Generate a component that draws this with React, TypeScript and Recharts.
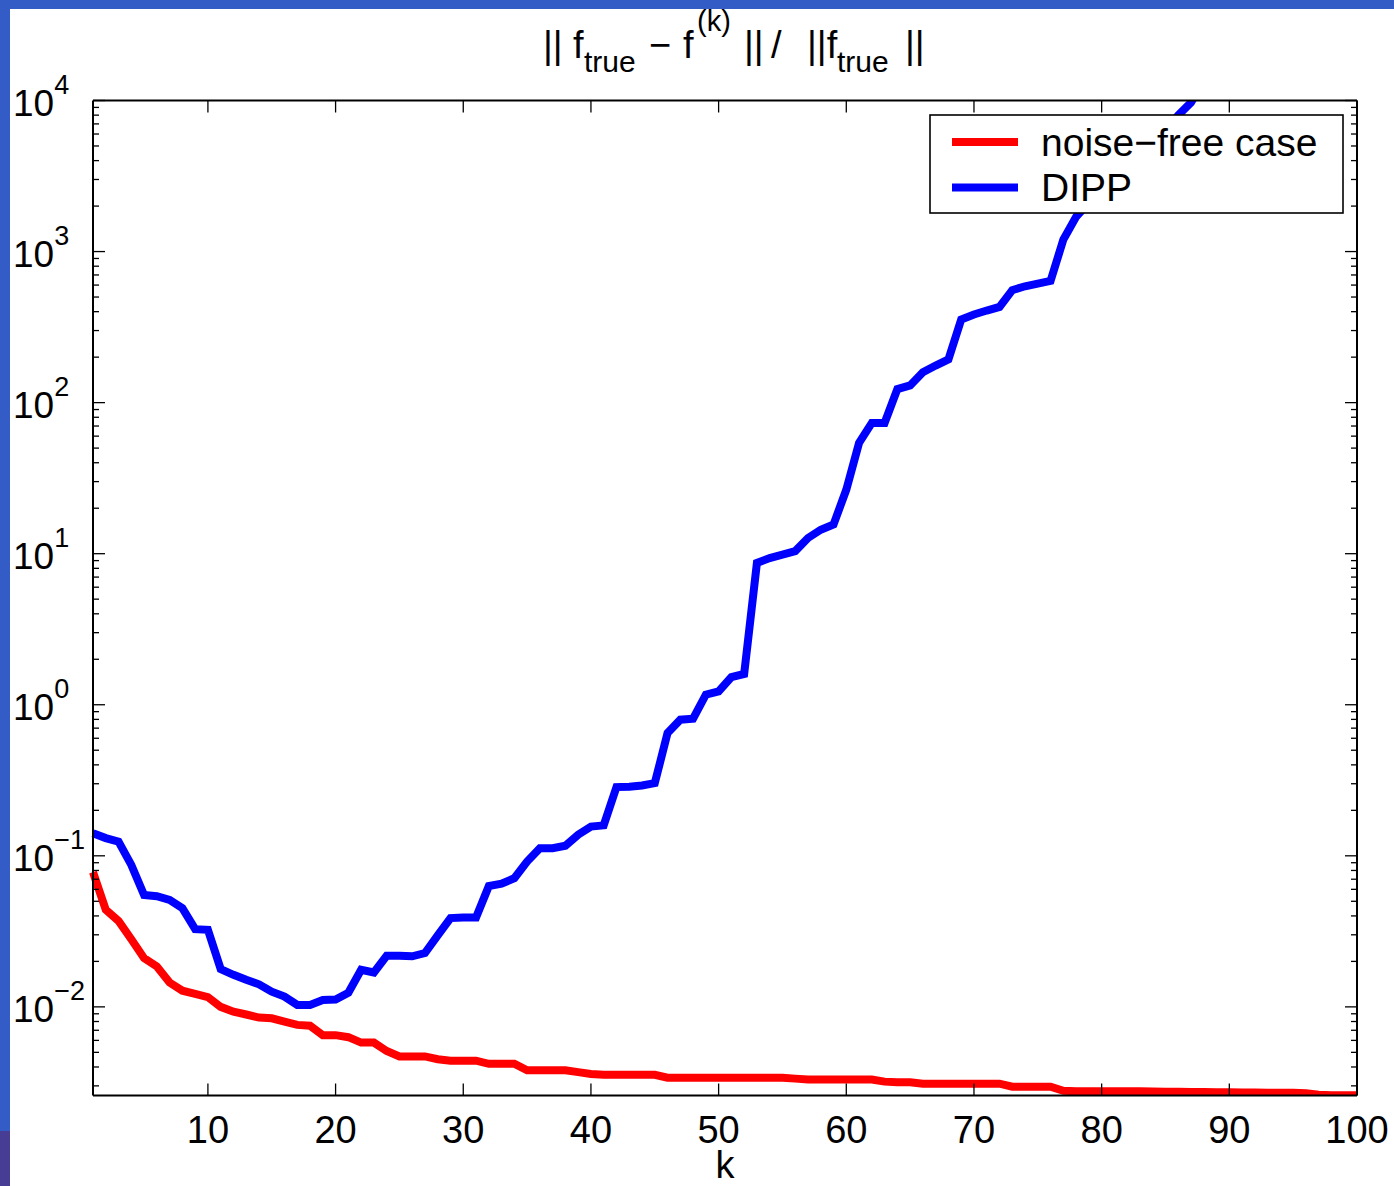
import React from 'react';
import { LineChart, Line, XAxis, YAxis } from 'recharts';

// relative error per iteration k = 1..100
const noiseFree = [
  0.078, 0.044, 0.037, 0.028, 0.021, 0.0185, 0.0145, 0.0128, 0.0122, 0.0116,
  0.01, 0.0093, 0.0089, 0.0085, 0.0084, 0.008, 0.0076, 0.0075, 0.0065, 0.0065,
  0.0063, 0.0058, 0.0058, 0.0051, 0.0047, 0.0047, 0.0047, 0.0045, 0.0044, 0.0044,
  0.0044, 0.0042, 0.0042, 0.0042, 0.0038, 0.0038, 0.0038, 0.0038, 0.0037, 0.0036,
  0.00355, 0.00355, 0.00355, 0.00355, 0.00355, 0.0034, 0.0034, 0.0034, 0.0034, 0.0034,
  0.0034, 0.0034, 0.0034, 0.0034, 0.0034, 0.00335, 0.0033, 0.0033, 0.0033, 0.0033,
  0.0033, 0.0033, 0.0032, 0.00317, 0.00317, 0.0031, 0.0031, 0.0031, 0.0031, 0.0031,
  0.0031, 0.0031, 0.00296, 0.00296, 0.00296, 0.00296, 0.00278, 0.00276, 0.00276, 0.00276,
  0.00276, 0.00276, 0.00276, 0.00275, 0.00274, 0.00274, 0.00273, 0.00273, 0.00272, 0.00272,
  0.00271, 0.00271, 0.0027, 0.0027, 0.0027, 0.00268, 0.00262, 0.0026, 0.0026, 0.0026,
];

// DIPP leaves the top of the axes after k = 87
const dipp = [
  0.141, 0.131, 0.124, 0.087, 0.055, 0.054, 0.051, 0.045, 0.0327, 0.0324,
  0.0178, 0.0163, 0.0151, 0.0141, 0.0126, 0.0117, 0.0103, 0.0103, 0.0111, 0.0112,
  0.0124, 0.0176, 0.0169, 0.0218, 0.0218, 0.0216, 0.0227, 0.0297, 0.0387, 0.039,
  0.039, 0.063, 0.0653, 0.0711, 0.0917, 0.1124, 0.1124, 0.1165, 0.138, 0.156,
  0.159, 0.285, 0.287, 0.292, 0.303, 0.649, 0.796, 0.808, 1.165, 1.225,
  1.525, 1.6, 8.68, 9.36, 9.85, 10.4, 12.7, 14.4, 15.6, 26.5,
  54.1, 73.4, 73.4, 123, 130, 159, 176, 193, 355, 383,
  407, 430, 555, 589, 614, 640, 1200, 1700, 2100, 2500,
  3000, 3500, 4200, 5000, 6300, 8000, 9700, 13500,
];

const kTicks = [10, 20, 30, 40, 50, 60, 70, 80, 90, 100];
const yMajorTicks = [0.01, 0.1, 1, 10, 100, 1000, 10000];
const yExponents = ['\u22122', '\u22121', '0', '1', '2', '3', '4'];
const minorSteps = [2, 3, 4, 5, 6, 7, 8, 9];
const minorDecades = [0.001, 0.01, 0.1, 1, 10, 100, 1000];

const Y_MIN = 0.00259;
const Y_MAX = 10000;

const series = [
  { key: 'noiseFree', name: 'noise\u2212free case', color: '#ff0000' },
  { key: 'dipp', name: 'DIPP', color: '#0000ff' },
];

const data = noiseFree.map((v, i) => ({ k: i + 1, noiseFree: v, dipp: dipp[i] }));

const yTicks = [
  ...yMajorTicks,
  ...minorDecades.flatMap((d) => minorSteps.map((s) => d * s)),
].filter((v) => v >= Y_MIN && v <= Y_MAX).sort((a, b) => a - b);

const FONT = '"Liberation Sans", Arial, Helvetica, sans-serif';

const LeftTick = (props: any) => {
  const { x, y, payload } = props;
  const idx = yMajorTicks.indexOf(payload.value);
  const major = idx >= 0;
  return (
    <g>
      <line x1={x} x2={x + (major ? 12 : 6)} y1={y} y2={y} stroke="#000" strokeWidth={1.3} />
      {major && (
        <text x={x - 80} y={y + 15} fontSize={37} fontFamily={FONT} fill="#000" textAnchor="start">
          10<tspan dy={-22} fontSize={27}>{yExponents[idx]}</tspan>
        </text>
      )}
    </g>
  );
};

const RightTick = (props: any) => {
  const { x, y, payload } = props;
  const major = yMajorTicks.indexOf(payload.value) >= 0;
  return <line x1={x} x2={x - (major ? 12 : 6)} y1={y} y2={y} stroke="#000" strokeWidth={1.3} />;
};

const BottomTick = (props: any) => {
  const { x, y, payload } = props;
  return (
    <g>
      <line x1={x} x2={x} y1={y} y2={y - 12} stroke="#000" strokeWidth={1.3} />
      <text x={x} y={y + 47} fontSize={38} fontFamily={FONT} fill="#000" textAnchor="middle">
        {payload.value}
      </text>
    </g>
  );
};

const TopTick = (props: any) => {
  const { x, y } = props;
  return <line x1={x} x2={x} y1={y} y2={y + 12} stroke="#000" strokeWidth={1.3} />;
};

const Title = () => (
  <svg width={1394} height={90} style={{ position: 'absolute', left: 0, top: 0 }}>
    <g fontFamily={FONT} fill="#000">
      <text x={543} y={58} fontSize={38}>||</text>
      <text x={573} y={58} fontSize={38}>f</text>
      <text x={584} y={72} fontSize={30}>true</text>
      <text x={649} y={58} fontSize={38}>{'\u2212'}</text>
      <text x={683} y={58} fontSize={38}>f</text>
      <text x={697} y={31} fontSize={29}>(k)</text>
      <text x={744} y={58} fontSize={38}>||</text>
      <text x={771} y={58} fontSize={38}>/</text>
      <text x={807} y={58} fontSize={38}>||f</text>
      <text x={837} y={72} fontSize={30}>true</text>
      <text x={905} y={58} fontSize={38}>||</text>
    </g>
  </svg>
);

const LegendBox = () => (
  <svg width={416} height={102} style={{ position: 'absolute', left: 929, top: 114 }}>
    <rect x={1} y={1} width={413} height={98} fill="#fff" stroke="#000" strokeWidth={1.6} />
    {series.map((s, i) => (
      <g key={s.key}>
        <line x1={23} x2={89} y1={28 + i * 45.5} y2={28 + i * 45.5} stroke={s.color} strokeWidth={8} />
        <text x={112} y={42 + i * 45} fontSize={39} fontFamily={FONT} fill="#000">
          {s.name}
        </text>
      </g>
    ))}
  </svg>
);

export default function App() {
  return (
    <div style={{ position: 'absolute', left: 0, top: 0, width: 1394, height: 1186, background: '#335cc6', overflow: 'hidden' }}>
      <div style={{ position: 'absolute', left: 0, top: 1131, width: 10, height: 55, background: '#483d94' }} />
      <div style={{ position: 'absolute', left: 10, top: 9, right: 0, bottom: 0, background: '#fff' }} />
      <div style={{ position: 'absolute', left: 0, top: 0 }}>
        <LineChart
          width={1394}
          height={1186}
          data={data}
          margin={{ top: 99.5, right: 36, bottom: 30.5, left: 10 }}
        >
          <XAxis
            xAxisId="bottom"
            dataKey="k"
            type="number"
            domain={[1, 100]}
            ticks={kTicks}
            interval={0}
            height={60}
            tickSize={0}
            tickMargin={0}
            tickLine={false}
            tick={BottomTick}
            axisLine={{ stroke: '#000', strokeWidth: 2 }}
          />
          <XAxis
            xAxisId="top"
            orientation="top"
            dataKey="k"
            type="number"
            domain={[1, 100]}
            ticks={kTicks}
            interval={0}
            height={1}
            tickSize={0}
            tickMargin={0}
            tickLine={false}
            tick={TopTick}
            axisLine={{ stroke: '#000', strokeWidth: 2 }}
          />
          <YAxis
            yAxisId="left"
            scale="log"
            domain={[Y_MIN, Y_MAX]}
            allowDataOverflow
            ticks={yTicks}
            interval={0}
            width={83}
            tickSize={0}
            tickMargin={0}
            tickLine={false}
            tick={LeftTick}
            axisLine={{ stroke: '#000', strokeWidth: 2 }}
          />
          <YAxis
            yAxisId="right"
            orientation="right"
            scale="log"
            domain={[Y_MIN, Y_MAX]}
            allowDataOverflow
            ticks={yTicks}
            interval={0}
            width={1}
            tickSize={0}
            tickMargin={0}
            tickLine={false}
            tick={RightTick}
            axisLine={{ stroke: '#000', strokeWidth: 2 }}
          />
          {series.map((s) => (
            <Line
              key={s.key}
              xAxisId="bottom"
              yAxisId="left"
              type="linear"
              dataKey={s.key}
              name={s.name}
              stroke={s.color}
              strokeWidth={8}
              dot={false}
              activeDot={false}
              isAnimationActive={false}
            />
          ))}
        </LineChart>
      </div>
      <Title />
      <LegendBox />
      <svg width={1394} height={44} style={{ position: 'absolute', left: 0, top: 1142 }}>
        <text x={725} y={36} fontSize={38} fontFamily={FONT} fill="#000" textAnchor="middle">k</text>
      </svg>
    </div>
  );
}
